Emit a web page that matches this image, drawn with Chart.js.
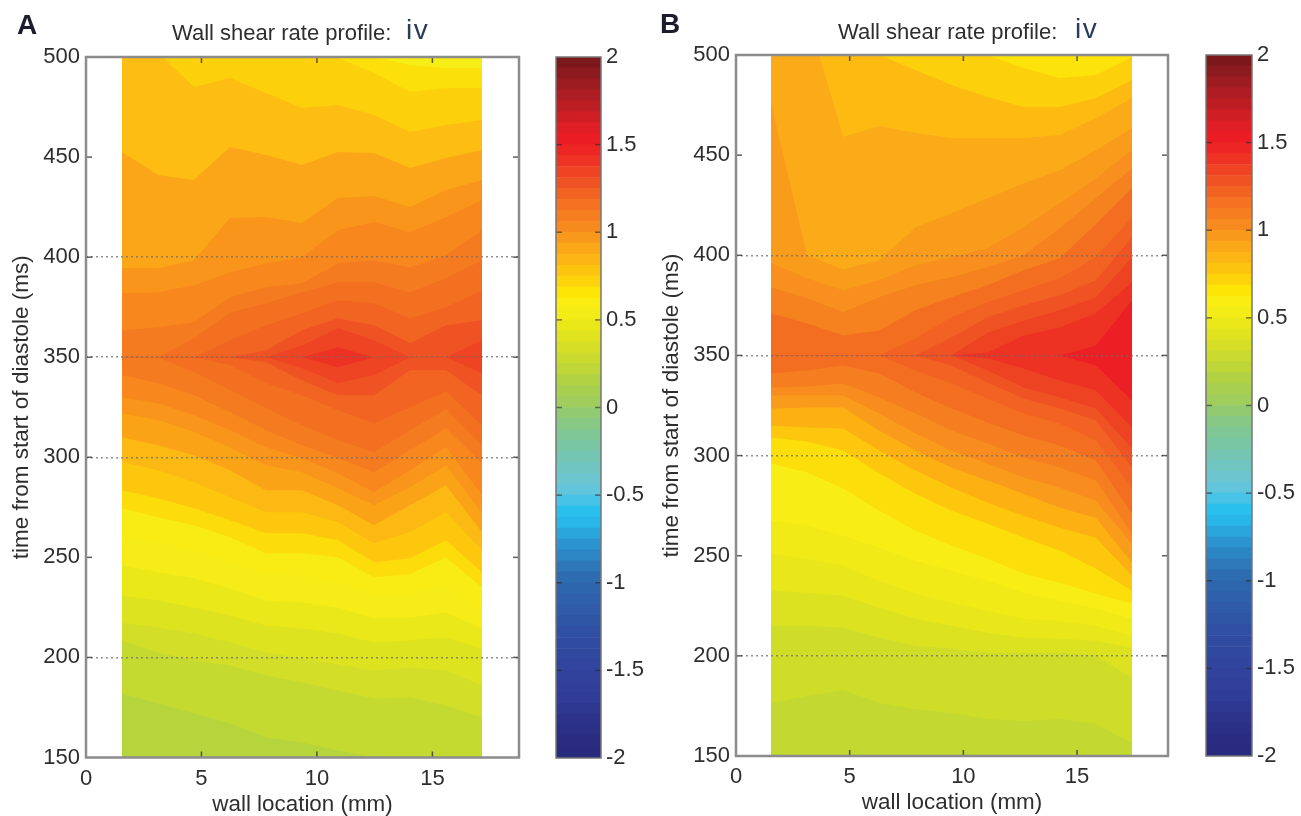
<!DOCTYPE html>
<html>
<head>
<meta charset="utf-8">
<title>Wall shear rate profile</title>
<script src="https://cdn.jsdelivr.net/npm/chart.js@4"></script>
<style>
  html, body { margin: 0; background: #fff; }
  body { position: relative; width: 1301px; height: 816px; overflow: hidden; font-family: "Liberation Sans", Arial, sans-serif; color: #2e2e2e; }
  canvas { position: absolute; top: 0; filter: blur(0.7px); }
  .panel-letter { position: absolute; font-weight: bold; font-size: 28px; color: #1c1c2c; filter: blur(0.5px); }
  .panel-title { position: absolute; font-size: 22px; white-space: pre; filter: blur(0.5px); }
  .panel-title span { position: absolute; top: -6px; font-size: 28px; letter-spacing: 1.5px; color: #2a3c58; }
</style>
</head>
<body>
<div class="panel-letter" style="left:17px;top:9px">A</div>
<div class="panel-letter" style="left:660px;top:8px">B</div>
<div class="panel-title" style="left:172px;top:20px">Wall shear rate profile:<span style="left:234px">iv</span></div>
<div class="panel-title" style="left:838px;top:19px">Wall shear rate profile:<span style="left:237px">iv</span></div>
<canvas id="chart-a" width="540" height="824" style="left:0"></canvas>
<canvas id="bar-a" width="120" height="816" style="left:540px"></canvas>
<canvas id="chart-b" width="540" height="824" style="left:650px"></canvas>
<canvas id="bar-b" width="111" height="816" style="left:1190px"></canvas>
<script>
'use strict';

// ── Data ───────────────────────────────────────────────────────────────────
const wallTicks = [0, 5, 10, 15];
const dottedTimes = [200, 300, 350, 400];

const wallA = [1.559, 3.118, 4.677, 6.236, 7.795, 9.354, 10.912, 12.471, 14.03, 15.589, 17.148];
const wallB = [1.539, 3.127, 4.714, 6.302, 7.89, 9.478, 11.065, 12.653, 14.241, 15.828, 17.416];

// contour lines: time (ms) at each wall location, bottom to top
const contoursA = [
  [150, 150, 150, 150, 150, 150, 150, 150, 150, 150, 150],
  [182, 177, 172, 167, 160, 157.5, 153.5, 150, 150, 150, 150],
  [208.5, 202.5, 198.5, 196, 191, 187.5, 183.5, 179.5, 180, 176, 170],
  [217.5, 215, 212, 207.5, 202.5, 199.5, 196.5, 193.5, 195, 193.5, 186],
  [231, 228.5, 225, 221, 216, 214.5, 212, 207.5, 208.5, 210, 204.5],
  [246, 242.5, 239.5, 234.5, 228.5, 227.5, 225, 219.5, 220, 222.5, 214.5],
  [260, 257, 253.5, 247.5, 242, 241, 237.5, 231, 232, 236, 223.5],
  [274.5, 270, 266, 260, 252, 252, 250, 240, 241.5, 250, 235],
  [283.5, 279.5, 274.5, 268.5, 262, 262, 258.5, 247.5, 249.5, 258.5, 242.5],
  [297.5, 293.5, 287.5, 280, 272.5, 272.5, 267.5, 257, 262.5, 272.5, 253.5],
  [310, 306, 301, 293.5, 283.5, 283.5, 276, 266, 276, 286, 262.5],
  [322, 318.5, 312.5, 305, 296, 292.5, 284.5, 276, 285, 296, 272],
  [330, 327, 321, 313.5, 305, 299.5, 292, 282.5, 293.5, 305, 281],
  [341, 337, 331, 322.5, 313.5, 306, 299.5, 292.5, 303.5, 314.5, 297],
  [350, 350, 342.5, 333.5, 324.5, 316, 308.5, 302.5, 313.5, 324, 306],
  [350, 350, 350, 346, 337, 331, 323.5, 317, 325, 333, 316],
  [350, 350, 350, 350, 347.5, 338.5, 331, 331, 343.5, 343.5, 331],
  [350, 350, 350, 350, 350, 344.5, 337, 341, 350, 350, 342],
  [350, 350, 350, 350, 350, 350, 345, 350, 350, 350, 350],
  [350, 350, 350, 350, 350, 350, 355, 350, 350, 350, 350],
  [350, 350, 350, 350, 350, 356, 364.5, 358.5, 350, 350, 358.5],
  [350, 350, 350, 350, 353.5, 363.5, 369.5, 366, 357, 366, 368.5],
  [350, 350, 350, 358.5, 366, 372, 378.5, 377, 369.5, 375, 383.5],
  [350, 350, 359.5, 372.5, 377, 382.5, 387.5, 387.5, 382.5, 389.5, 398.5],
  [363.5, 365, 367.5, 380, 385, 387, 397, 398.5, 395, 401, 413.5],
  [382, 382.5, 386, 392.5, 397, 400, 413.5, 417.5, 412.5, 420, 428.5],
  [394.5, 394.5, 398.5, 419.5, 420, 417, 429.5, 430.5, 425, 433.5, 438.5],
  [452.5, 441, 438.5, 455, 451, 446, 452.5, 452, 444.5, 449.5, 453.5],
  [500, 502, 485, 489.5, 482, 474.5, 476, 471, 462.5, 466, 468.5],
  [500, 500, 500, 500, 500, 500, 499.5, 492, 482.5, 484.5, 484.5],
  [500, 500, 500, 500, 500, 500, 500, 500, 496, 494.5, 494.5]
];

const contoursB = [
  [150, 150, 150, 150, 150, 150, 150, 150, 150, 150, 150],
  [176.5, 180, 183, 176.5, 173.5, 171.5, 168.5, 167.5, 168.5, 166, 156.5],
  [215, 215, 214, 209, 205, 203.5, 201.5, 201.5, 201.5, 200, 189],
  [232.5, 231.5, 230, 224, 218.5, 215, 211.5, 209, 208.5, 207.5, 204],
  [251, 248.5, 245, 237.5, 231, 226.5, 222.5, 218.5, 217.5, 215, 210],
  [267.5, 265, 260, 254, 247.5, 242.5, 237.5, 231.5, 227.5, 223.5, 218.5],
  [296, 291.5, 283.5, 272.5, 262.5, 255, 248.5, 241, 236.5, 231, 226],
  [309, 307, 302.5, 291, 281, 272.5, 266, 259, 252.5, 243.5, 232.5],
  [315, 314, 313.5, 302.5, 292.5, 284, 276.5, 270, 264, 259, 240],
  [323.5, 324, 324, 312.5, 302.5, 294, 287.5, 281, 274, 269, 246.5],
  [330, 330, 330, 321, 311, 302.5, 296, 289, 284, 277.5, 256],
  [334, 334.5, 336, 329, 321, 312.5, 306, 299, 294, 287.5, 261],
  [341, 342.5, 345, 341, 331.5, 323.5, 316.5, 310, 305, 297.5, 271],
  [350, 350, 350, 350, 342.5, 336, 328.5, 321, 316, 307.5, 284],
  [350, 350, 350, 350, 350, 345, 336.5, 328.5, 323.5, 317.5, 294],
  [350, 350, 350, 350, 350, 350, 342.5, 334, 329, 323.5, 303.5],
  [350, 350, 350, 350, 350, 350, 348.5, 343.5, 337.5, 332.5, 314],
  [350, 350, 350, 350, 350, 350, 350, 350, 350, 345, 327.5],
  [350, 350, 350, 350, 350, 350, 350, 350, 350, 355, 377.5],
  [350, 350, 350, 350, 350, 350, 351.5, 360, 364, 371, 386.5],
  [350, 350, 350, 350, 350, 350, 361.5, 367.5, 372.5, 379, 399],
  [350, 350, 350, 350, 350, 359, 369, 375, 380, 387.5, 409],
  [350, 350, 350, 350, 358.5, 369, 376.5, 382.5, 388.5, 399, 419],
  [371, 366, 360, 362.5, 372.5, 379, 385, 392.5, 398.5, 415.5, 433.5],
  [384, 378.5, 371.5, 379, 385, 389, 394, 400, 413.5, 428.5, 443.5],
  [396, 388.5, 382.5, 387.5, 395, 399, 403.5, 414, 426, 438.5, 452.5],
  [476, 400, 393, 397.5, 414, 421, 428.5, 436, 442.5, 452.5, 463.5],
  [521, 521, 459, 464.5, 461, 458.5, 458.5, 458.5, 460, 468.5, 478.5],
  [500, 500, 500, 500, 492.5, 485, 479, 474, 474, 478.5, 487.5],
  [500, 500, 500, 500, 500, 500, 500, 493.5, 488.5, 490, 499]
];

// colour of the band above each contour line
const bandColoursA = [
  '#b6d43c', '#c5da31', '#d2de28', '#dee31f', '#ebe81a', '#f5ec18', '#f9ec14', '#fcdc0b',
  '#fdc70e', '#fdb913', '#fba317', '#f9951b', '#f8881e', '#f57b20', '#f47021', '#f26422',
  '#f05323', '#ef4423', '#ed3224', '#ef4423', '#f05323', '#f26422', '#f47021', '#f57b20',
  '#f8881e', '#f9951b', '#fba618', '#fdbd12', '#fdd00c', '#fbe009', '#f8ee17'
];
const bandColoursB = [
  '#c3d932', '#cfdd28', '#dce220', '#e9e71a', '#f1ea17', '#f8ee15', '#fcdf0a', '#fdc70e',
  '#fcb012', '#f99b1b', '#f88c1e', '#f57f20', '#f36e21', '#f26222', '#f05323', '#ee4323',
  '#ed3224', '#ec1f25', '#ed3224', '#ee4323', '#f05323', '#f26222', '#f36e21', '#f5811f',
  '#f88f1e', '#f99c1b', '#fbab18', '#fdbb12', '#fdd00c', '#fce309'
];

// colour bar: lower edge of every step, and its colour
const barLevels = [
  -2, -1.9375, -1.875, -1.8125, -1.75, -1.6875, -1.625, -1.5625,
  -1.5, -1.4375, -1.375, -1.3125, -1.25, -1.1875, -1.125, -1.0625,
  -1, -0.9375, -0.875, -0.8125, -0.75, -0.6875, -0.625, -0.5625,
  -0.5, -0.4375, -0.375, -0.3125, -0.25, -0.1875, -0.125, -0.0625,
  0, 0.0625, 0.125, 0.1875, 0.25, 0.3125, 0.375, 0.4375,
  0.5, 0.5625, 0.625, 0.6875, 0.75, 0.8125, 0.875, 0.9375,
  1, 1.0625, 1.125, 1.1875, 1.25, 1.3125, 1.375, 1.4375,
  1.5, 1.5625, 1.625, 1.6875, 1.75, 1.8125, 1.875, 1.9375, 2
];
const barColours = [
  '#272a7d', '#292c80', '#2b2f85', '#2d338b', '#2f3890', '#303d96', '#313f99', '#31429c',
  '#31449e', '#31489f', '#304ca1', '#3050a3', '#2f55a5', '#2f5ba8', '#2f60ab', '#2e66ae',
  '#2e6cb1', '#2e78ba', '#2d86c4', '#2c95d0', '#2ba6dd', '#29b6e9', '#2ac0ee', '#46c3e6',
  '#62c5db', '#6cc5cf', '#70c5c0', '#74c6b2', '#78c6a4', '#7fc795', '#87c885', '#92ca72',
  '#a0cd5c', '#a9cf50', '#b2d243', '#bed637', '#cbda2e', '#d6de26', '#e1e31e', '#ebe81a',
  '#f4ec17', '#faed12', '#fde506', '#fdd40b', '#fdc40f', '#fcb514', '#faa718', '#f9991b',
  '#f78a1e', '#f67e20', '#f47221', '#f26322', '#f05323', '#ef4324', '#ee3324', '#ed2525',
  '#ec1c24', '#e01e25', '#cf1f25', '#bd1e24', '#ad1d23', '#9d1c21', '#8c1a1f', '#7c171b'
];

// ── Helpers ────────────────────────────────────────────────────────────────
const FONT = '"Liberation Sans", Arial, sans-serif';
const TEXT = '#2e2e2e';

function tickMark(ctx, x1, y1, x2, y2) {
  ctx.beginPath();
  ctx.moveTo(x1, y1);
  ctx.lineTo(x2, y2);
  ctx.stroke();
}

// MATLAB style box with ticks pointing inward on all four sides
const boxPlugin = {
  id: 'box',
  afterDraw(chart, args, opts) {
    const { ctx, chartArea: a, scales } = chart;
    ctx.save();
    ctx.strokeStyle = opts.tickColor;
    ctx.lineWidth = 1.5;
    scales.y.ticks.forEach(t => {
      const py = scales.y.getPixelForValue(t.value);
      if (py <= a.top + 1 || py >= a.bottom - 1) return;
      tickMark(ctx, a.left, py, a.left + opts.tick, py);
      tickMark(ctx, a.right, py, a.right - opts.tick, py);
    });
    if (scales.x.options.display) {
      scales.x.ticks.forEach(t => {
        const px = scales.x.getPixelForValue(t.value);
        if (px <= a.left + 1) return;
        tickMark(ctx, px, a.bottom, px, a.bottom - opts.tick);
        tickMark(ctx, px, a.top, px, a.top + opts.tick);
      });
    }
    ctx.strokeStyle = opts.boxColor;
    ctx.lineWidth = opts.boxWidth;
    ctx.strokeRect(a.left, a.top, a.width, a.height);
    ctx.restore();
  }
};

// ── Contour panels ─────────────────────────────────────────────────────────
function contourChart(id, wall, contours, colours, layout) {
  new Chart(document.getElementById(id), {
    type: 'line',
    data: {
      datasets: contours.map((line, i) => ({
        data: wall.map((x, k) => ({ x, y: line[k] })),
        fill: 'end',
        backgroundColor: colours[i],
        borderWidth: 0,
        pointRadius: 0,
        tension: 0,
        order: contours.length - i   // paint bottom band first
      }))
    },
    plugins: [boxPlugin],
    options: {
      responsive: false,
      animation: false,
      events: [],
      layout: { padding: { left: 8, right: layout.right, top: layout.top, bottom: 0 } },
      plugins: {
        legend: { display: false },
        tooltip: { enabled: false },
        box: { tick: 6, tickColor: 'rgba(40,40,40,0.75)', boxColor: '#8c8c8c', boxWidth: 2.5 }
      },
      scales: {
        x: {
          type: 'linear',
          min: 0,
          max: layout.xMax,
          afterFit: s => { s.height = layout.xHeight; },
          afterBuildTicks: s => { s.ticks = wallTicks.map(value => ({ value })); },
          grid: { display: false, drawTicks: false },
          border: { display: false },
          ticks: { color: TEXT, font: { family: FONT, size: 22 }, padding: 8, maxRotation: 0 },
          title: { display: true, text: 'wall location (mm)', color: TEXT, font: { family: FONT, size: 22.4 }, padding: { top: 0, bottom: layout.titleGap } }
        },
        y: {
          min: 150,
          max: 500,
          afterFit: s => { s.width = 78; },
          grid: {
            z: 1,
            drawTicks: false,
            lineWidth: 1.5,
            color: c => dottedTimes.includes(c.tick.value) ? 'rgba(110,110,110,0.75)' : 'transparent'
          },
          border: { display: false, dash: [2, 3] },
          ticks: { stepSize: 50, color: TEXT, font: { family: FONT, size: 22 }, padding: 6 },
          title: { display: true, text: 'time from start of diastole (ms)', color: TEXT, font: { family: FONT, size: 22.5 }, padding: 0 }
        }
      }
    }
  });
}

// ── Colour bars ────────────────────────────────────────────────────────────
function colourBar(id, layout) {
  new Chart(document.getElementById(id), {
    type: 'bar',
    data: {
      labels: ['shear'],
      datasets: barColours.map((c, i) => ({
        data: [[barLevels[i], barLevels[i + 1]]],
        backgroundColor: c,
        borderWidth: 0,
        grouped: false,
        barPercentage: 1,
        categoryPercentage: 1
      }))
    },
    plugins: [boxPlugin],
    options: {
      responsive: false,
      animation: false,
      events: [],
      layout: { padding: { left: 16, right: 0, top: layout.top, bottom: layout.bottom } },
      plugins: {
        legend: { display: false },
        tooltip: { enabled: false },
        box: { tick: 6, tickColor: 'rgba(40,40,40,0.6)', boxColor: '#777', boxWidth: 1.5 }
      },
      scales: {
        x: { display: false },
        y: {
          position: 'right',
          min: -2,
          max: 2,
          afterFit: s => { s.width = layout.axis; },
          grid: { display: false, drawTicks: false },
          border: { display: false },
          ticks: { stepSize: 0.5, color: TEXT, font: { family: FONT, size: 22 }, padding: 5, callback: v => String(v) }
        }
      }
    }
  });
}

// ── Initialise ─────────────────────────────────────────────────────────────
contourChart('chart-a', wallA, contoursA, bandColoursA, { right: 21, top: 57, xHeight: 66.5, xMax: 18.75, titleGap: 5.6 });
contourChart('chart-b', wallB, contoursB, bandColoursB, { right: 22, top: 55, xHeight: 68, xMax: 19, titleGap: 7.6 });
colourBar('bar-a', { top: 57, bottom: 58, axis: 59 });
colourBar('bar-b', { top: 55, bottom: 60, axis: 49 });
</script>
</body>
</html>
